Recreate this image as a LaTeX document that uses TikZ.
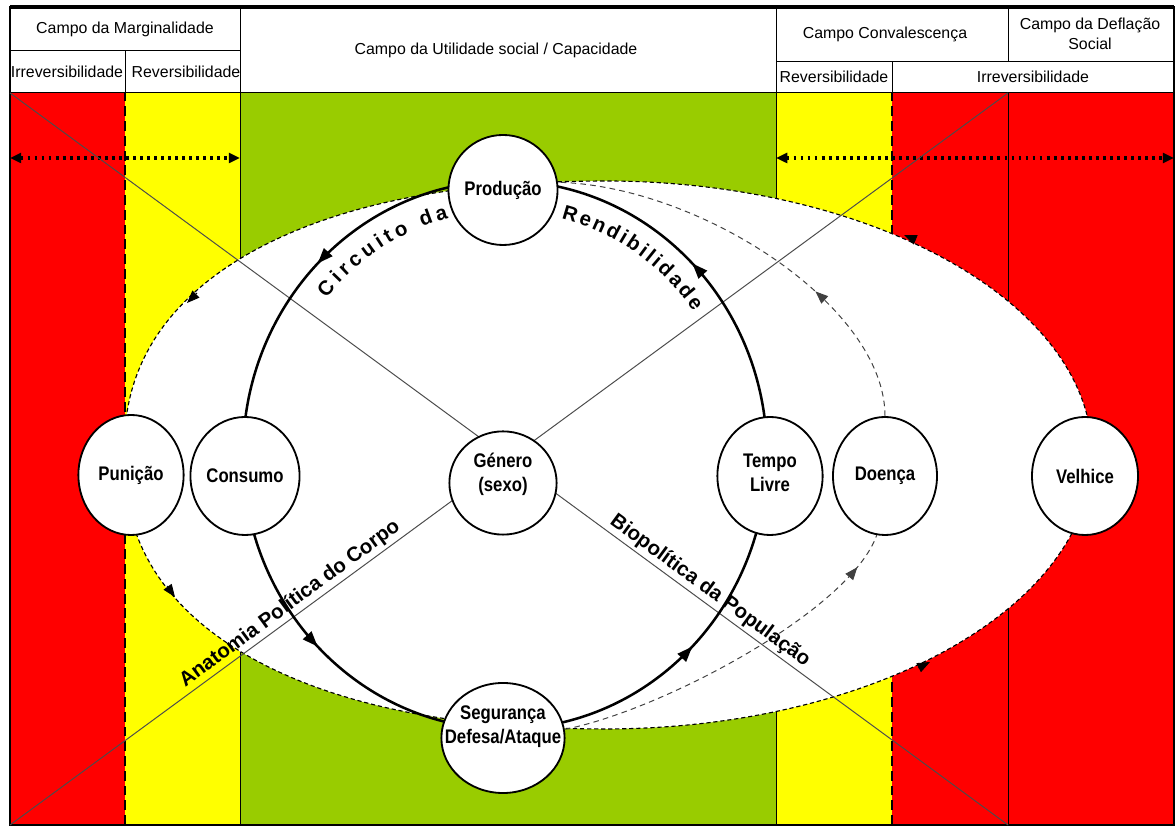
\documentclass[tikz,border=0pt]{standalone}
\usepackage{fontspec}
\setmainfont{Liberation Sans}
\newfontfamily\nodefont[FakeStretch=0.85]{Liberation Sans}
\usetikzlibrary{shapes.geometric,arrows.meta,decorations.markings,decorations.text}
\definecolor{redzone}{RGB}{255,0,0}
\definecolor{yellowzone}{RGB}{255,255,0}
\definecolor{greenzone}{RGB}{153,204,0}
% two-line text in a bubble, lifted a little
\newcommand{\bub}[2][0pt]{\makebox[0pt]{\raisebox{#1}[0pt][0pt]{\begin{tabular}{@{}c@{}}#2\end{tabular}}}}

\tikzset{
  bubble/.style={ellipse, draw, line width=1.3pt, fill=white, inner sep=0pt,
    minimum width=2.63cm, minimum height=2.95cm,
    font=\nodefont\bfseries\fontsize{14}{17}\selectfont},
  headtext/.style={font=\fontsize{11.3}{14}\selectfont, align=center, inner sep=0pt},
  zoneline/.style={line width=0.7pt},
  zonedash/.style={line width=1.7pt, dash pattern=on 7pt off 3.5pt},
  crossline/.style={line width=0.7pt, black!70},
  cycleline/.style={line width=1.8pt},
  fieldedge/.style={line width=0.8pt, dash pattern=on 3pt off 2pt},
  fieldtip/.style={line width=0.6pt, -{Triangle[length=9pt,width=7pt]}},
  returnline/.style={line width=0.7pt, black!75, dash pattern=on 4pt off 3pt},
  fieldarrow/.style={line width=2.2pt, dash pattern=on 2pt off 3pt,
    {Triangle[length=8pt,width=7pt]}-{Triangle[length=8pt,width=7pt]}},
  linelabel/.style={font=\bfseries\fontsize{14.5}{17}\selectfont, inner sep=2pt}
}

\begin{document}
\begin{tikzpicture}[x=0.025cm, y=0.025cm]
\useasboundingbox (0,0) rectangle (1176,826);

% fields
\fill[redzone] (10,1) rectangle (125,733);
\fill[yellowzone] (125,1) rectangle (240,733);
\fill[greenzone] (240,1) rectangle (776,733);
\fill[yellowzone] (776,1) rectangle (892,733);
\fill[redzone] (892,1) rectangle (1174,733);
\draw[zonedash] (125,1) -- (125,733);
\draw[zonedash] (892,1) -- (892,733);
\draw[zoneline] (240,1) -- (240,819) (776,1) -- (776,819) (1008,1) -- (1008,733);

% header
\draw[zoneline] (10,733) -- (1174,733);
\draw[zoneline] (10,775) -- (240,775) (776,764) -- (1174,764);
\draw[zoneline] (125,733) -- (125,775) (892,733) -- (892,764) (1008,764) -- (1008,819);
\node[headtext] (marg) at (125,797) {Campo da Marginalidade};
\node[headtext] (util) at (496,776) {Campo da Utilidade social / Capacidade};
\node[headtext] (conv) at (885,792) {Campo Convalescença};
\node[headtext] (defl) at (1090,792) {Campo da Deflação\\Social};
\node[headtext] (irrl) at (67,754) {Irreversibilidade};
\node[headtext] (revl) at (186,754) {Reversibilidade};
\node[headtext] (revr) at (834,749) {Reversibilidade};
\node[headtext] (irrr) at (1033,749) {Irreversibilidade};

% outer frame
\draw[line width=1.4pt] (10,1) rectangle (1174,819);
\draw[line width=2.8pt] (10,819) -- (1174,819);

\coordinate (l1) at (10,668);
\coordinate (l2) at (240,668);
\coordinate (r1) at (776,668);
\coordinate (r2) at (1174,668);
\draw[fieldarrow] (l1) -- (l2);
\draw[fieldarrow] (r1) -- (r2);

% white field: fuller on the left, plain ellipse on the right
\draw[fieldedge, fill=white]
  plot[domain=90.5:269.5, samples=120, variable=\t]
    ({612+488*cos(\t)*abs(cos(\t))^(-0.1304)}, {371+274*sin(\t)*abs(sin(\t))^(-0.1304)})
  arc[start angle=-90, end angle=90, x radius=488, y radius=274] -- cycle;
\draw[fieldtip] (197,533) -- (187,523);
\draw[fieldtip] (167,240) -- (175,229);
\draw[fieldtip] (918,158) -- (930,164);
\draw[fieldtip] (916,586) -- (904,591);

% diagonals
\coordinate (x1) at (10,733);
\coordinate (x2) at (1008,1);
\coordinate (x3) at (10,1);
\coordinate (x4) at (1008,733);
\draw[crossline] (x1) -- (x2);
\draw[crossline] (x3) -- (x4);

% circuit
\draw[cycleline, postaction={decorate}, decoration={markings,
    mark=at position 0.125 with {\arrow{Triangle[length=11pt,width=8pt]}},
    mark=at position 0.375 with {\arrow{Triangle[length=11pt,width=8pt]}},
    mark=at position 0.625 with {\arrow{Triangle[length=11pt,width=8pt]}},
    mark=at position 0.875 with {\arrow{Triangle[length=11pt,width=8pt]}}}]
  (505,371) ellipse [x radius=262, y radius=274];

\node[bubble] (prod) at (503,636) [minimum height=2.75cm] {Produção};
\node[bubble] (cons) at (245,350) {Consumo};
\node[bubble] (puni) at (131,351) [minimum height=3cm] {Punição};
\node[bubble] (gen) at (503,343) [minimum width=2.68cm, minimum height=2.58cm] {\bub[2pt]{Género\\(sexo)}};
\node[bubble] (tempo) at (770,350) {\bub[-2.5pt]{Tempo\\Livre}};
\node[bubble] (doe) at (885,350) [minimum width=2.6cm] {Doença};
\node[bubble] (velh) at (1085,350) [minimum width=2.65cm] {Velhice};
\node[bubble] (seg) at (503,88) [minimum width=3.08cm, minimum height=2.75cm] {\bub[4.5pt]{Segurança\\Defesa/Ataque}};

\draw[returnline, postaction={decorate}, decoration={markings,
    mark=at position 0.34 with {\arrow{Triangle[length=9pt,width=7pt]}}}]
  (doe.north) .. controls (885,520) and (700,640) .. (prod.8);
\draw[returnline, postaction={decorate}, decoration={markings,
    mark=at position 0.9 with {\arrow{Triangle[length=9pt,width=7pt]}}}]
  (seg.8) .. controls (660,115) and (850,215) .. (doe.262);

% labels
\path[decorate, decoration={text along path, text align={fit to path},
    text={|\bfseries\fontsize{14.5}{16}\selectfont|Circuito da}}]
  (505,371) ++(140:233 and 244) arc[start angle=140, end angle=104, x radius=233, y radius=244];
\path[decorate, decoration={text along path, text align={fit to path},
    text={|\bfseries\fontsize{14.5}{16}\selectfont|Rendibilidade}}]
  (505,371) ++(76:233 and 244) arc[start angle=76, end angle=36, x radius=233, y radius=244];
\path (x3) -- (x4) node[linelabel, pos=0.288, sloped, above] (anat) {Anatomia Política do Corpo};
\path (x1) -- (x2) node[linelabel, pos=0.694, sloped, above] (bio) {Biopolítica da População};
\end{tikzpicture}
\end{document}
